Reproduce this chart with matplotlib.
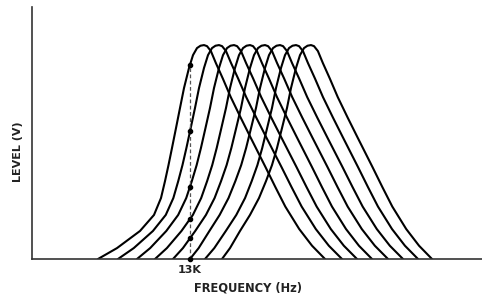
import numpy as np
from matplotlib import pyplot as plt

plt.rcParams["font.family"] = ["DejaVu Sans"]

# peak / left foot / right foot of each of the 8 response curves (chart units)
peak_x = [172, 187, 202, 218, 233, 248, 264, 279]
left_foot = [66, 86, 105, 123, 141, 158, 173, 190]
right_foot = [293, 310, 325, 340, 356, 371, 386, 400]
peak_level = 1.0

# left flank shape: level (relative to peak) and offset from the peak,
# for the widest curve (first) and the narrowest one (last)
left_lvl = [0.0, 0.051, 0.131, 0.206, 0.285, 0.364, 0.439, 0.519,
            0.612, 0.706, 0.799, 0.893, 0.953, 0.986, 0.997, 1.0]
left_off_wide = [-106, -87, -64, -50, -43, -39, -35.5, -32,
                 -28, -24, -20, -15, -11, -7, -3.5, 0]
left_off_narrow = [-89, -81, -71, -61, -52, -45, -39, -34,
                   -29, -24, -20, -15, -11, -7, -3.5, 0]
# right flank: offset as a fraction of (right foot - peak)
right_frac = [0.0, 0.025, 0.057, 0.098, 0.156, 0.221, 0.303, 0.385, 0.426,
              0.508, 0.590, 0.672, 0.787, 0.893, 1.0]
right_lvl = [1.0, 0.995, 0.972, 0.916, 0.843, 0.757, 0.661, 0.568, 0.522,
             0.430, 0.336, 0.245, 0.140, 0.062, 0.0]

marker_x = 158
marker_label = "13K"

fig = plt.figure(figsize=(4.82, 2.95), dpi=100)
ax = fig.add_axes([32 / 482, 36 / 295, 450 / 482, 252 / 295])

w_max = -left_off_wide[0]
w_min = -left_off_narrow[0]
curves = []
for p, lf, rf in zip(peak_x, left_foot, right_foot):
    t = ((p - lf) - w_min) / (w_max - w_min)
    t = min(max(t, 0), 1)
    lx = [p + t * a + (1 - t) * b for a, b in zip(left_off_wide, left_off_narrow)]
    rx = [p + f * (rf - p) for f in right_frac[1:]]
    xs = lx + rx
    ys = [peak_level * v for v in left_lvl] + [peak_level * v for v in right_lvl[1:]]
    curves.append((lx, xs, ys))
    ax.plot(xs, ys, color="black", lw=1.5, solid_capstyle="round", solid_joinstyle="round")

# points where the curves cross the 13K line
dot_y = []
for lx, xs, ys in curves:
    if lx[0] <= marker_x <= lx[-1]:
        dot_y.append(np.interp(marker_x, lx, ys[:len(lx)]))
ax.plot([marker_x, marker_x], [0, max(dot_y)], color="#555555", lw=0.9, ls=(0, (3, 2)))
ax.plot([marker_x] * len(dot_y), dot_y, "o", color="black", ms=3, clip_on=False, zorder=5)

ax.set_xlim(0, 450)
ax.set_ylim(0, 1.178)
ax.set_xticks([marker_x])
ax.set_xticklabels([marker_label], fontsize=8, fontweight="bold", color="#222222")
ax.tick_params(axis="x", length=0, pad=4)
ax.set_yticks([])
for s in ["top", "right"]:
    ax.spines[s].set_visible(False)
for s in ["left", "bottom"]:
    ax.spines[s].set_linewidth(1.2)
    ax.spines[s].set_color("#333333")
ax.set_xlabel("FREQUENCY (Hz)", fontsize=8.3, fontweight="bold", color="#222222")
ax.xaxis.set_label_coords((248 - 32) / 450, -0.09)
ax.set_ylabel("LEVEL (V)", fontsize=8, fontweight="bold", color="#222222")
ax.yaxis.set_label_coords(-0.02, 0.425)

fig.savefig("out.png", dpi=100)
